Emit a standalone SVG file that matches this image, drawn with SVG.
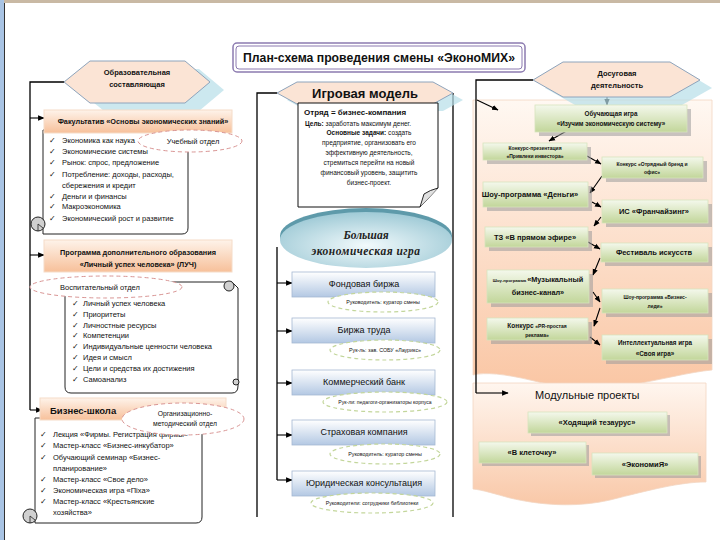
<svg xmlns="http://www.w3.org/2000/svg" width="720" height="540" viewBox="0 0 720 540">
<defs>
<linearGradient id="peach" x1="0" y1="0" x2="0" y2="1"><stop offset="0" stop-color="#FEF3EA"/><stop offset="1" stop-color="#F7C09A"/></linearGradient>
<linearGradient id="blueBox" x1="0" y1="0" x2="0" y2="1"><stop offset="0" stop-color="#FFFFFF"/><stop offset="1" stop-color="#B3C8E3"/></linearGradient>
<linearGradient id="greenBox" x1="0" y1="0" x2="0" y2="1"><stop offset="0" stop-color="#F4F8EC"/><stop offset="1" stop-color="#C2D69A"/></linearGradient>
<linearGradient id="leisure" x1="0" y1="0" x2="0" y2="1"><stop offset="0" stop-color="#FFF8F2"/><stop offset="1" stop-color="#FAC6A4"/></linearGradient>
<linearGradient id="modul" x1="0" y1="0" x2="0" y2="1"><stop offset="0" stop-color="#FFF6EF"/><stop offset="1" stop-color="#F9C8A8"/></linearGradient>
<radialGradient id="bigEll" cx="0.5" cy="0.6" r="0.6"><stop offset="0" stop-color="#F2FAFC"/><stop offset="1" stop-color="#9FCAD6"/></radialGradient>
<marker id="arr" viewBox="0 0 10 10" refX="9" refY="5" markerWidth="6" markerHeight="6" orient="auto-start-reverse"><path d="M0,1 L10,5 L0,9 z" fill="#000"/></marker>
<style>
.t{font-family:"Liberation Sans","DejaVu Sans",sans-serif;fill:#111}
.b{font-weight:bold}
.li{font-size:7.5px}
.ck{font-family:"DejaVu Sans",sans-serif;font-size:8px;fill:#111}
.hex{fill:#FBE4D5;stroke:#8EA4BC;stroke-width:1}
.hexsh{fill:#B7DEE8;opacity:0.7}
.scroll{fill:#fff;stroke:#222;stroke-width:1}
.curl{fill:#D0D0D0;stroke:#222;stroke-width:1}
.dpink{fill:#fff;stroke:#D99594;stroke-width:1;stroke-dasharray:4 3}
.dgreen{fill:#fff;stroke:#C3D69B;stroke-width:1.2;stroke-dasharray:4 3}
.hdr{fill:url(#peach);stroke:#F5DCC8;stroke-width:1}
.bbox{fill:url(#blueBox);stroke:#A5B8D2;stroke-width:0.8}
.gbox{fill:url(#greenBox);stroke:#D7E4BD;stroke-width:0.8}
.gsh{fill:#9A9A9A;opacity:0.55}
.ln{fill:none;stroke:#000;stroke-width:1.3}
.la{fill:none;stroke:#000;stroke-width:1.1;marker-end:url(#arr)}
</style>
</defs>
<rect x="0" y="0" width="720" height="540" fill="#fff"/>
<rect x="0" y="0" width="720" height="3" fill="#C9B9A4"/>
<rect x="0" y="0" width="4" height="540" fill="#A9C4E4"/>
<line x1="4.5" y1="3" x2="4.5" y2="540" stroke="#333" stroke-width="1"/>

<g id="title">
<rect x="233" y="43" width="292" height="29" rx="4" fill="#fff" stroke="#8C7BB0" stroke-width="1.5"/>
<rect x="236" y="46" width="286" height="23" rx="3" fill="#fff" stroke="#8C7BB0" stroke-width="1"/>
<text class="t" x="379" y="62" font-size="13.5" text-anchor="middle" textLength="272" lengthAdjust="spacingAndGlyphs" font-weight="600">План-схема проведения смены «ЭконоМИХ»</text>
</g>

<g id="leisure-area">
<path d="M473,100 L712,100 L712,370 C690,372 660,380 630,385 C600,390 560,388 530,380 C505,374 485,372 473,375 Z" fill="url(#leisure)" stroke="#F3D6C2" stroke-width="0.8"/>
</g>
<g id="modular-area">
<path d="M473,383 L706,383 L706,482 C680,482 650,490 610,500 C575,508 540,505 510,498 C495,494 483,490 473,489 Z" fill="url(#modul)" stroke="#F3D6C2" stroke-width="0.8"/>
<text class="t" x="535" y="399" font-size="11">Модульные проекты</text>
</g>

<g id="connectors">
<polyline class="ln" points="64,82 30,82 30,410"/>
<line class="la" x1="30" y1="118" x2="44" y2="118"/>
<line class="la" x1="30" y1="255" x2="44" y2="255"/>
<line class="la" x1="30" y1="410" x2="42" y2="410"/>
<polyline class="ln" points="277,93 257,93 257,517"/>
<line class="ln" x1="453" y1="93" x2="453" y2="517"/>
<line class="ln" x1="277" y1="247" x2="277" y2="480"/>
<line class="la" x1="277" y1="283" x2="292" y2="283"/>
<line class="la" x1="277" y1="331" x2="292" y2="331"/>
<line class="la" x1="277" y1="383" x2="292" y2="383"/>
<line class="la" x1="277" y1="435" x2="292" y2="435"/>
<line class="la" x1="277" y1="480" x2="292" y2="480"/>
<polyline class="ln" points="533,80 476,80 476,393"/>
<line class="la" x1="476" y1="393" x2="508" y2="393"/>
<line class="la" x1="477" y1="100" x2="498" y2="110"/>
<line class="la" x1="607" y1="97" x2="607" y2="105"/>
<line class="la" x1="570" y1="129" x2="549" y2="141"/>
<line class="la" x1="587" y1="156" x2="601" y2="164"/>
<line class="la" x1="602" y1="176" x2="590" y2="193"/>
<line class="la" x1="592" y1="202" x2="601" y2="207"/>
<line class="la" x1="601" y1="217" x2="594" y2="226"/>
<line class="la" x1="588" y1="242" x2="600" y2="249"/>
<line class="la" x1="600" y1="258" x2="593" y2="275"/>
<line class="la" x1="593" y1="292" x2="600" y2="302"/>
<line class="la" x1="600" y1="308" x2="594" y2="326"/>
<line class="la" x1="590" y1="337" x2="600" y2="345"/>
</g>

<g id="hex-edu">
<polygon class="hexsh" points="78,90 104,69 199,69 224,90 199,111 104,111"/>
<polygon class="hex" points="64,82 90,61 185,61 210,82 185,103 90,103"/>
<text class="t b" x="137" y="75" font-size="7.5" text-anchor="middle">Образовательная</text>
<text class="t b" x="137" y="87" font-size="7.5" text-anchor="middle">составляющая</text>
</g>

<g id="fakultativ">
<path class="scroll" d="M43,130 L188,130 L188,228 Q188,234 182,234 L43,234 Z"/>
<circle class="curl" cx="38" cy="224" r="7"/>
<path d="M38,224 L38,231 M38,224 L43,228" stroke="#222" stroke-width="0.8" fill="none"/>
<rect class="hdr" x="44" y="110" width="188" height="23"/>
<text class="t b" x="143" y="124" font-size="7.3" text-anchor="middle">Факультатив «Основы экономических знаний»</text>
<g>
<text class="ck" x="49" y="143">✓</text><text class="t li" x="62" y="143">Экономика как наука</text>
<text class="ck" x="49" y="154">✓</text><text class="t li" x="62" y="154">Экономические системы</text>
<text class="ck" x="49" y="165">✓</text><text class="t li" x="62" y="165">Рынок: спрос, предложение</text>
<text class="ck" x="49" y="177">✓</text><text class="t li" x="62" y="177">Потребление: доходы, расходы,</text>
<text class="t li" x="62" y="188">сбережения и кредит</text>
<text class="ck" x="49" y="199">✓</text><text class="t li" x="62" y="199">Деньги и финансы</text>
<text class="ck" x="49" y="209">✓</text><text class="t li" x="62" y="209">Макроэкономика</text>
<text class="ck" x="49" y="221">✓</text><text class="t li" x="62" y="221">Экономический рост и развитие</text>
</g>
</g>
<g id="dept-study">
<ellipse class="dpink" cx="190" cy="141" rx="52" ry="11"/>
<text class="t" x="193" y="144" font-size="7.5" text-anchor="middle">Учебный отдел</text>
</g>

<g id="luch">
<path class="scroll" d="M65,282 L232,282 L238,288 L238,386 Q238,393 232,393 L71,393 Q65,393 65,387 Z"/>
<circle class="curl" cx="229" cy="286" r="5"/>
<circle class="curl" cx="236" cy="382" r="3"/>
<rect class="hdr" x="44" y="240" width="188" height="32"/>
<text class="t b" x="138" y="255" font-size="7.3" text-anchor="middle">Программа дополнительного образования</text>
<text class="t b" x="138" y="267" font-size="7.3" text-anchor="middle">«Личный успех человека» (ЛУЧ)</text>
<text class="ck" x="72" y="306">✓</text><text class="t li" x="83" y="306">Личный успех человека</text>
<text class="ck" x="72" y="317">✓</text><text class="t li" x="83" y="317">Приоритеты</text>
<text class="ck" x="72" y="328">✓</text><text class="t li" x="83" y="328">Личностные ресурсы</text>
<text class="ck" x="72" y="338">✓</text><text class="t li" x="83" y="338">Компетенции</text>
<text class="ck" x="72" y="349">✓</text><text class="t li" x="83" y="349">Индивидуальные ценности человека</text>
<text class="ck" x="72" y="360">✓</text><text class="t li" x="83" y="360">Идея и смысл</text>
<text class="ck" x="72" y="371">✓</text><text class="t li" x="83" y="371">Цели и средства их достижения</text>
<text class="ck" x="72" y="382">✓</text><text class="t li" x="83" y="382">Самоанализ</text>
</g>
<g id="dept-edu">
<ellipse class="dpink" cx="106" cy="287" rx="76" ry="11"/>
<text class="t" x="100" y="290" font-size="7.5" text-anchor="middle">Воспитательный отдел</text>
</g>

<g id="business">
<path class="scroll" d="M35,418 L202,418 L202,517 Q202,523 196,523 L35,523 Z"/>
<circle class="curl" cx="30" cy="516" r="7"/>
<path d="M30,516 L30,523 M30,516 L35,520" stroke="#222" stroke-width="0.8" fill="none"/>
<rect class="hdr" x="40" y="398" width="186" height="22"/>
<text class="t b" x="50" y="414" font-size="9.5">Бизнес-школа</text>
<text class="ck" x="40" y="437">✓</text><text class="t li" x="53" y="437">Лекция «Фирмы. Регистрация фирмы»</text>
<text class="ck" x="40" y="448">✓</text><text class="t li" x="53" y="448">Мастер-класс «Бизнес-инкубатор»</text>
<text class="ck" x="40" y="460">✓</text><text class="t li" x="53" y="460">Обучающий семинар «Бизнес-</text>
<text class="t li" x="53" y="471">планирование»</text>
<text class="ck" x="40" y="482">✓</text><text class="t li" x="53" y="482">Мастер-класс «Свое дело»</text>
<text class="ck" x="40" y="493">✓</text><text class="t li" x="53" y="493">Экономическая игра «Пixa»</text>
<text class="ck" x="40" y="504">✓</text><text class="t li" x="53" y="504">Мастер-класс «Крестьянские</text>
<text class="t li" x="53" y="515">хозяйства»</text>
</g>
<g id="dept-org">
<ellipse class="dpink" cx="183" cy="419" rx="61" ry="16"/>
<text class="t" x="185" y="416" font-size="6.8" text-anchor="middle">Организационно-</text>
<text class="t" x="185" y="426" font-size="6.8" text-anchor="middle">методический отдел</text>
</g>

<g id="hex-game">
<polygon class="hexsh" points="287,100 307,89 443,89 463,100 443,111 307,111"/>
<polygon class="hex" points="277,93 297,82 433,82 453,93 433,104 297,104"/>
<text class="t b" x="365" y="98" font-size="13" text-anchor="middle">Игровая модель</text>
</g>

<g id="note">
<path d="M298,103 L438,103 L438,188 L420,207 L298,207 Z" fill="#fff" stroke="#111" stroke-width="1"/>
<path d="M420,207 L424,194 Q430,190 438,188" fill="#E0E0E0" stroke="#111" stroke-width="0.9"/>
<text class="t b" x="304" y="115" font-size="8">Отряд = бизнес-компания</text>
<text class="t" x="305" y="125.5" font-size="6.5"><tspan font-weight="bold">Цель:</tspan> заработать максимум денег.</text>
<text class="t" x="369" y="135" font-size="6.5" text-anchor="middle"><tspan font-weight="bold">Основные задачи:</tspan> создать</text>
<text class="t" x="369" y="145" font-size="6.5" text-anchor="middle">предприятие, организовать его</text>
<text class="t" x="369" y="155" font-size="6.5" text-anchor="middle">эффективную деятельность,</text>
<text class="t" x="369" y="165" font-size="6.5" text-anchor="middle">стремиться перейти на новый</text>
<text class="t" x="369" y="175" font-size="6.5" text-anchor="middle">финансовый уровень, защитить</text>
<text class="t" x="369" y="185" font-size="6.5" text-anchor="middle">бизнес-проект.</text>
</g>

<g id="big-game">
<ellipse cx="366" cy="236" rx="86" ry="28" fill="#5E9AAA"/>
<ellipse cx="366" cy="240" rx="86" ry="28" fill="url(#bigEll)"/>
<text x="366" y="239" font-family="'Liberation Serif',serif" font-style="italic" font-weight="bold" font-size="11.5" fill="#222" text-anchor="middle">Большая</text>
<text x="366" y="255" font-family="'Liberation Serif',serif" font-style="italic" font-weight="bold" font-size="11.5" fill="#222" text-anchor="middle" letter-spacing="0.5">экономическая игра</text>
</g>

<g id="g-fond">
<rect class="bbox" x="292" y="272" width="143" height="25"/>
<text class="t" x="364" y="287" font-size="9" text-anchor="middle">Фондовая биржа</text>
<ellipse class="dgreen" cx="383" cy="302" rx="55" ry="10"/>
<text class="t" x="383" y="304" font-size="5.3" text-anchor="middle">Руководитель: куратор смены</text>
</g>
<g id="g-trud">
<rect class="bbox" x="292" y="318" width="143" height="25"/>
<text class="t" x="364" y="333" font-size="9" text-anchor="middle">Биржа труда</text>
<ellipse class="dgreen" cx="385" cy="350" rx="55" ry="10"/>
<text class="t" x="385" y="352" font-size="5.3" text-anchor="middle">Рук-ль: зав. СОБУ «Лаурикс»</text>
</g>
<g id="g-bank">
<rect class="bbox" x="292" y="370" width="143" height="25"/>
<text class="t" x="364" y="385" font-size="9" text-anchor="middle">Коммерческий банк</text>
<ellipse class="dgreen" cx="385" cy="402" rx="62" ry="10"/>
<text class="t" x="385" y="404" font-size="5.1" text-anchor="middle">Рук-ли: педагоги-организаторы корпуса</text>
</g>
<g id="g-insur">
<rect class="bbox" x="292" y="420" width="143" height="25"/>
<text class="t" x="364" y="435" font-size="9" text-anchor="middle">Страховая компания</text>
<ellipse class="dgreen" cx="385" cy="454" rx="55" ry="10"/>
<text class="t" x="385" y="456" font-size="5.3" text-anchor="middle">Руководитель: куратор смены</text>
</g>
<g id="g-law">
<rect class="bbox" x="292" y="471" width="143" height="25"/>
<text class="t" x="364" y="486" font-size="9" text-anchor="middle">Юридическая консультация</text>
<ellipse class="dgreen" cx="372" cy="503" rx="61" ry="10"/>
<text class="t" x="372" y="505" font-size="5.2" text-anchor="middle">Руководители: сотрудники библиотеки</text>
</g>

<g id="hex-leisure">
<polygon class="hexsh" points="545,88 575,70 682,70 712,88 682,105 575,105"/>
<polygon class="hex" points="533,80 563,62 670,62 700,80 670,97 563,97"/>
<text class="t b" x="617" y="76" font-size="7.5" text-anchor="middle">Досуговая</text>
<text class="t b" x="617" y="88" font-size="7.5" text-anchor="middle">деятельность</text>
</g>

<g id="l-learn"><rect class="gsh" x="539" y="109" width="152" height="27"/><rect class="gbox" x="535" y="105" width="152" height="27"/>
<text class="t b" x="611" y="116" font-size="6.3" text-anchor="middle">Обучающая игра</text>
<text class="t b" x="611" y="126" font-size="6.3" text-anchor="middle">«Изучим экономическую систему»</text></g>
<g id="l-invest"><rect class="gsh" x="487" y="147" width="104" height="17"/><rect class="gbox" x="483" y="143" width="104" height="17"/>
<text class="t b" x="535" y="150" font-size="5" text-anchor="middle">Конкурс-презентация</text>
<text class="t b" x="535" y="158" font-size="5" text-anchor="middle">«Привлеки инвестора»</text></g>
<g id="l-brand"><rect class="gsh" x="606" y="161" width="101" height="21"/><rect class="gbox" x="602" y="157" width="101" height="21"/>
<text class="t b" x="652" y="166" font-size="5" text-anchor="middle">Конкурс «Отрядный бренд и</text>
<text class="t b" x="652" y="174" font-size="5" text-anchor="middle">офис»</text></g>
<g id="l-money"><rect class="gsh" x="487" y="186" width="105" height="25"/><rect class="gbox" x="483" y="182" width="105" height="25"/>
<text class="t b" x="530" y="197" font-size="7.5" text-anchor="middle">Шоу-программа «Деньги»</text></g>
<g id="l-franch"><rect class="gsh" x="606" y="204" width="106" height="23"/><rect class="gbox" x="602" y="200" width="106" height="23"/>
<text class="t b" x="654" y="214" font-size="7.5" text-anchor="middle">ИС «Франчайзинг»</text></g>
<g id="l-tz"><rect class="gsh" x="489" y="231" width="103" height="20"/><rect class="gbox" x="485" y="227" width="103" height="20"/>
<text class="t b" x="535" y="240" font-size="7.5" text-anchor="middle">ТЗ «В прямом эфире»</text></g>
<g id="l-fest"><rect class="gsh" x="605" y="247" width="107" height="19"/><rect class="gbox" x="601" y="243" width="107" height="19"/>
<text class="t b" x="654" y="255" font-size="7.5" text-anchor="middle">Фестиваль искусств</text></g>
<g id="l-music"><rect class="gsh" x="491" y="274" width="102" height="33"/><rect class="gbox" x="487" y="270" width="102" height="33"/>
<text class="t b" x="538" y="282" text-anchor="middle"><tspan font-size="4.2">Шоу-программа </tspan><tspan font-size="7.3">«Музыкальный</tspan></text>
<text class="t b" x="538" y="295" font-size="7.3" text-anchor="middle">бизнес-канал»</text></g>
<g id="l-lady"><rect class="gsh" x="606" y="293" width="106" height="24"/><rect class="gbox" x="602" y="289" width="106" height="24"/>
<text class="t b" x="655" y="299" font-size="5" text-anchor="middle">Шоу-программа «Бизнес-</text>
<text class="t b" x="655" y="308" font-size="5" text-anchor="middle">леди»</text></g>
<g id="l-pr"><rect class="gsh" x="491" y="322" width="101" height="22"/><rect class="gbox" x="487" y="318" width="101" height="22"/>
<text class="t b" x="537" y="328" text-anchor="middle"><tspan font-size="6.5">Конкурс </tspan><tspan font-size="5">«PR-простая</tspan></text>
<text class="t b" x="537" y="337" font-size="5" text-anchor="middle">реклама»</text></g>
<g id="l-own"><rect class="gsh" x="606" y="339" width="106" height="25"/><rect class="gbox" x="602" y="335" width="106" height="25"/>
<text class="t b" x="655" y="345" font-size="6.3" text-anchor="middle">Интеллектуальная игра</text>
<text class="t b" x="655" y="356" font-size="6.3" text-anchor="middle">«Своя игра»</text></g>

<g id="m-thes"><rect class="gsh" x="531" y="415" width="139" height="21"/><rect class="gbox" x="528" y="412" width="139" height="21"/>
<text class="t b" x="597" y="425" font-size="7.5" text-anchor="middle">«Ходящий тезаурус»</text></g>
<g id="m-cell"><rect class="gsh" x="482" y="445" width="107" height="21"/><rect class="gbox" x="479" y="442" width="107" height="21"/>
<text class="t b" x="532" y="455" font-size="7.5" text-anchor="middle">«В клеточку»</text></g>
<g id="m-econ"><rect class="gsh" x="595" y="456" width="106" height="22"/><rect class="gbox" x="592" y="453" width="106" height="22"/>
<text class="t b" x="645" y="467" font-size="7.5" text-anchor="middle">«ЭкономиЯ»</text></g>
</svg>
